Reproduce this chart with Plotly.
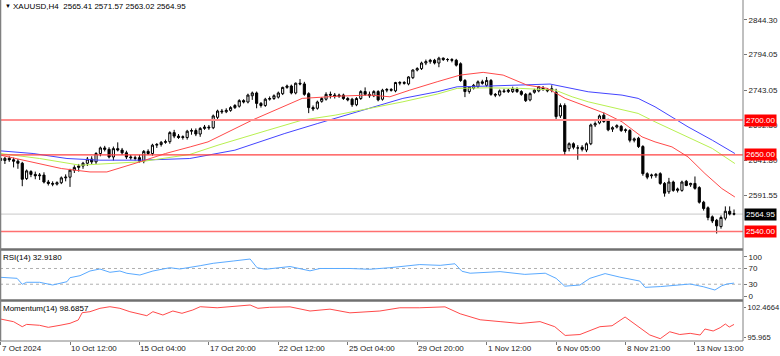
import plotly.graph_objects as go

# ---------------- data (XAUUSD H4) ----------------
open_ = [2645,2642,2645,2643,2641,2638,2616,2626,2622,2620,2621,2611,2609,2608,2610,2617,2618,2628,2632,2634,
         2638,2644,2640,2652,2660,2658,2647,2659,2657,2653,2647,2646,2646,2641,2655,2652,2664,2665,2668,2669,
         2682,2677,2675,2675,2684,2685,2680,2688,2690,2689,2704,2713,2712,2714,2718,2720,2728,2726,2735,2739,
         2724,2721,2730,2731,2733,2738,2747,2749,2739,2753,2752,2738,2718,2717,2727,2730,2737,2736,2734,2736,
         2731,2730,2722,2731,2741,2737,2735,2741,2730,2743,2744,2742,2753,2754,2752,2761,2772,2774,2782,2784,
         2786,2782,2789,2787,2787,2786,2781,2757,2741,2746,2748,2755,2750,2757,2737,2736,2742,2741,2741,2744,
         2741,2737,2729,2740,2742,2746,2744,2743,2740,2706,2721,2659,2666,2660,2661,2657,2666,2693,2696,2707,
         2699,2687,2690,2691,2685,2685,2671,2674,2662,2623,2620,2620,2623,2609,2597,2611,2599,2599,2612,2607,
         2609,2603,2582,2574,2561,2556,2547,2559,2569,2565.41]
high = [2648,2647,2648,2646,2644,2640,2629,2628,2626,2624,2625,2614,2612,2612,2619,2622,2630,2635,2637,2640,
        2647,2648,2654,2662,2663,2661,2662,2668,2660,2656,2650,2649,2650,2657,2658,2666,2667,2670,2672,2684,
        2686,2680,2678,2686,2688,2688,2690,2693,2693,2708,2715,2716,2717,2720,2723,2730,2730,2738,2741,2741,
        2726,2732,2734,2737,2741,2748,2751,2751,2754,2759,2755,2740,2721,2728,2733,2740,2741,2739,2738,2738,
        2733,2732,2733,2743,2747,2741,2743,2743,2745,2746,2746,2755,2756,2756,2763,2773,2776,2784,2787,2788,
        2788,2791,2790,2789,2789,2788,2783,2759,2749,2752,2757,2758,2762,2759,2739,2744,2745,2745,2748,2747,
        2743,2739,2740,2745,2749,2749,2746,2750,2745,2724,2724,2668,2668,2664,2664,2668,2695,2698,2708,2711,
        2702,2691,2694,2693,2688,2687,2675,2676,2664,2625,2623,2624,2625,2611,2617,2613,2603,2613,2614,2610,
        2619,2605,2584,2576,2563,2558,2563,2576,2576,2571.57]
low = [2638,2637,2640,2632,2630,2605,2614,2618,2615,2614,2609,2606,2605,2606,2608,2612,2604,2624,2626,2630,
       2634,2637,2637,2648,2655,2645,2642,2655,2650,2644,2643,2642,2639,2638,2650,2649,2660,2662,2666,2666,
       2674,2673,2672,2672,2679,2677,2676,2686,2686,2687,2701,2709,2710,2712,2716,2718,2724,2724,2729,2717,
       2718,2719,2728,2729,2731,2736,2745,2737,2737,2750,2735,2710,2713,2715,2725,2728,2731,2731,2732,2729,
       2727,2719,2720,2729,2735,2732,2733,2727,2728,2740,2741,2740,2750,2751,2750,2759,2770,2772,2779,2781,
       2780,2776,2785,2784,2783,2777,2755,2733,2738,2744,2746,2751,2748,2735,2733,2734,2739,2739,2739,2739,
       2735,2726,2727,2738,2740,2742,2740,2740,2700,2703,2650,2655,2658,2643,2655,2654,2664,2690,2694,2696,
       2684,2683,2688,2683,2682,2668,2668,2660,2620,2615,2616,2617,2607,2590,2594,2597,2596,2597,2605,2604,
       2600,2580,2570,2556,2552,2537,2544,2556,2563,2563.02]
close = [2642,2645,2643,2641,2638,2615,2627,2622,2620,2621,2611,2609,2608,2610,2617,2618,2628,2632,2634,2638,
         2644,2640,2652,2660,2658,2647,2659,2657,2653,2647,2646,2645,2641,2655,2652,2664,2665,2668,2669,2682,
         2677,2675,2676,2684,2685,2680,2688,2690,2689,2706,2713,2712,2714,2718,2721,2728,2726,2736,2739,2724,
         2721,2730,2731,2735,2739,2747,2749,2739,2753,2752,2737,2718,2716,2726,2731,2737,2736,2734,2736,2731,
         2729,2722,2731,2741,2737,2735,2741,2729,2743,2744,2743,2754,2754,2753,2762,2772,2774,2782,2784,2786,
         2782,2789,2787,2787,2786,2779,2757,2741,2748,2750,2755,2753,2757,2737,2736,2742,2741,2743,2745,2741,
         2737,2728,2738,2743,2748,2744,2742,2745,2705,2721,2655,2666,2661,2660,2658,2666,2693,2695,2706,2698,
         2686,2689,2692,2685,2686,2671,2673,2662,2623,2618,2621,2622,2609,2595,2611,2599,2601,2611,2606,2609,
         2602,2582,2573,2560,2555,2548,2560,2569,2565,2564.95]

# moving averages (read at sample bars)
ma_red_idx = [0,7,14,20.6,24.5,32.1,38,43.7,47.8,58,69.5,78.2,85.1,89.7,94.3,100.6,105.9,111.2,115.8,121.3,126,
              130.1,135.4,139.3,143.2,147.8,150.8,154.7,158.4,162.3,166.2,169.2]
ma_red_val = [2649.6,2640,2630.4,2625.5,2625.5,2640,2652,2661.5,2668.7,2700,2731.2,2734.5,2736,2733.5,2743.1,2755.1,
              2764.7,2768.6,2764.7,2750.3,2745.6,2731.2,2719.1,2709.6,2697.5,2675.9,2668.7,2661.5,2647.1,2623.2,2601.6,2589.5]
ma_green_idx = [0,9,18.3,26.4,32.1,43.6,50.1,61.6,69.5,77.1,85.1,92.7,100.6,105.2,112.1,119.7,127.8,131.7,135.4,
                143.2,146.9,150.8,158.4,164,169.2]
ma_green_val = [2652,2644.8,2635.2,2637.6,2640,2650.6,2664,2685.5,2700,2707.1,2717.2,2726.3,2737.4,2745.6,2746.4,
                2745.6,2743.1,2733.5,2726.3,2714.3,2709.6,2697.5,2675.9,2659.2,2637.6]
ma_blue_idx = [0,7.5,15.3,22.9,32.1,43.6,54,65.5,73.1,81,86.3,92.7,100.6,105.2,112.1,119.7,126.6,135.4,143.2,
               146.9,150.8,158.4,164,169.2]
ma_blue_val = [2655.8,2652,2644.8,2642.4,2642.4,2644.8,2656.8,2680.8,2695.2,2709.6,2719.1,2731.2,2740.7,2747.9,
               2748.9,2750.3,2751.8,2740.7,2735.9,2731.2,2719.1,2690.3,2671.1,2652]

rsi_idx = [0,3.8,5,6,9,11.4,12,15.3,16,18.3,20.6,22.9,25.2,27.5,29.1,32.1,35.1,39,41.3,46,49,53.6,57.5,59.1,
           61,66.7,71.3,73.6,80.5,85,89.7,96.6,101.3,104.7,106.3,108.2,115.1,120.8,125.5,128,130,133.5,135.8,
           139.3,142.7,147.3,148.5,152,156.5,158.9,161.9,164.6,166.2,167.4,168.8,169]
rsi_val = [47.6,45,29.8,34.9,34.9,28,28,36.4,46.6,51.7,63.6,68.7,60.3,63.6,57.8,53.4,63.6,72,68.7,77.1,83.2,89,
           94.1,72,68,75,64,70,70,68,72,80,78,82,63,58,62,55,58,45,25,28,45,57,48,38,22,24,28,30.5,23.7,15.3,
           26.2,30.5,32.5,32.918]
mom_idx = [0,3,5,6,9,11,13.7,16,17.9,18.8,20.6,22.9,25.2,27.5,29.8,32.1,33.7,35.1,37.4,39.7,41.8,44.3,46,49.9,
           53.6,57.5,59.3,62,66.7,71.3,75.9,80.5,87.4,92,96.6,102.4,105.9,110.5,115.1,119.7,124.3,127.7,130.1,
           133.5,138.1,140.9,143.9,146.2,149.6,152,154.2,156.5,158.9,161.2,162.3,164.2,165.8,167,167.9,169]
mom_val = [99.86,99.28,98.2,98.7,98.5,98.06,98.5,98.93,99.65,101.23,101.45,102.18,102.53,102.18,101.45,100.88,
           100.58,101.45,100.73,101.6,101.1,101.82,102.53,102.3,102.53,102.9,102.18,102.4,102.5,101.6,102.0,101.2,
           101.6,102.3,102.3,102.5,101.0,99.7,99.3,98.9,99.3,98.2,96.3,96.5,98.2,98.4,100.3,98.8,96.4,95.6,97.1,
           96.5,96.76,96.4,97.7,97.27,97.98,98.78,98.13,98.6857]

levels = [2700.0, 2650.0, 2540.0]
price_ticks = [2844.30, 2794.05, 2743.05, 2692.80, 2641.80, 2591.55]
rsi_ticks = [100, 70, 30, 0]
mom_ticks = [102.4664, 95.965]
time_pos = [0, 16, 32, 48, 64, 80, 96, 112, 128, 144, 160]
time_labels = ["7 Oct 2024", "10 Oct 12:00", "15 Oct 04:00", "17 Oct 20:00", "22 Oct 12:00", "25 Oct 04:00",
               "29 Oct 20:00", "1 Nov 12:00", "6 Nov 05:00", "8 Nov 21:00", "13 Nov 13:00"]

# ---------------- figure ----------------
FONT = "Liberation Sans"
FS = 8
H = 341.0  # plot area height in px
def py(p):
    return (H - p) / H

idx = list(range(len(close)))
fig = go.Figure()

fig.add_trace(go.Candlestick(
    x=idx, open=open_, high=high, low=low, close=close,
    increasing=dict(line=dict(color="#000000", width=1), fillcolor="#ffffff"),
    decreasing=dict(line=dict(color="#000000", width=1), fillcolor="#000000"),
    whiskerwidth=0, xaxis="x", yaxis="y", hoverinfo="skip", showlegend=False))

for xs, ys, col in [(ma_blue_idx, ma_blue_val, "#4444ff"),
                    (ma_green_idx, ma_green_val, "#b8f050"),
                    (ma_red_idx, ma_red_val, "#ff4a4a")]:
    fig.add_trace(go.Scatter(x=xs, y=ys, mode="lines", line=dict(color=col, width=1),
                             xaxis="x", yaxis="y", hoverinfo="skip", showlegend=False))

fig.add_trace(go.Scatter(x=rsi_idx, y=rsi_val, mode="lines", line=dict(color="#5aaaff", width=1),
                         xaxis="x2", yaxis="y2", hoverinfo="skip", showlegend=False))
fig.add_trace(go.Scatter(x=mom_idx, y=mom_val, mode="lines", line=dict(color="#ff4a4a", width=1),
                         xaxis="x3", yaxis="y3", hoverinfo="skip", showlegend=False))

XR = [-0.13, 171.07]
axis_common = dict(showgrid=False, zeroline=False, fixedrange=True, automargin=False)
tick_font = dict(size=FS, color="#222222", family=FONT)
fig.update_layout(
    width=780, height=356,
    margin=dict(l=0, r=37, t=0, b=15, autoexpand=False),
    paper_bgcolor="#ffffff", plot_bgcolor="#ffffff",
    font=dict(family=FONT, size=FS, color="#000000"),
    showlegend=False,
    xaxis=dict(domain=[0, 1], range=XR, anchor="y", showticklabels=False, rangeslider=dict(visible=False),
               **axis_common),
    xaxis2=dict(domain=[0, 1], range=XR, anchor="y2", matches="x", showticklabels=False, **axis_common),
    xaxis3=dict(domain=[0, 1], range=XR, anchor="y3", matches="x", tickvals=time_pos, ticks="outside",
                ticklen=3, tickcolor="#777777", showticklabels=False, **axis_common),
    yaxis=dict(domain=[py(248), 1], range=[2516.2, 2872.6], side="right", anchor="x",
               tickvals=price_ticks, ticktext=["%.2f" % v for v in price_ticks],
               ticks="outside", ticklen=3, tickcolor="#777777", tickfont=tick_font, **axis_common),
    yaxis2=dict(domain=[py(299), py(251)], range=[-7.6, 114.5], side="right", anchor="x2",
                tickvals=rsi_ticks, ticktext=[str(v) for v in rsi_ticks],
                ticks="outside", ticklen=3, tickcolor="#777777", tickfont=tick_font, **axis_common),
    yaxis3=dict(domain=[0, py(302)], range=[95.098, 103.55], side="right", anchor="x3",
                tickvals=mom_ticks, ticktext=["102.4664", "95.965"],
                ticks="outside", ticklen=2, tickcolor="#777777",
                tickfont=dict(size=7.6, color="#222222", family=FONT), **axis_common),
)

shapes = []
shapes.append(dict(type="line", xref="paper", x0=0, x1=1, yref="y", y0=2564.95, y1=2564.95,
                   line=dict(color="#c8c8c8", width=1), layer="below"))
shapes.append(dict(type="line", xref="paper", x0=0, x1=1, yref="y", y0=levels[0], y1=levels[0],
                   line=dict(color="#ff8c8c", width=2)))
shapes.append(dict(type="line", xref="paper", x0=0, x1=1, yref="y", y0=levels[1], y1=levels[1],
                   line=dict(color="#ff4040", width=1.2)))
shapes.append(dict(type="line", xref="paper", x0=0, x1=1, yref="y", y0=levels[2], y1=levels[2],
                   line=dict(color="#ff7070", width=1.5)))
for v in (70, 30):
    shapes.append(dict(type="line", xref="paper", x0=0, x1=1, yref="y2", y0=v, y1=v,
                       line=dict(color="#b0b0b0", width=1, dash="dot"), layer="below"))
for yy in (249.5, 300.5):
    shapes.append(dict(type="line", xref="paper", x0=0, x1=1, yref="paper", y0=py(yy), y1=py(yy),
                       line=dict(color="#707070", width=2.5)))
shapes.append(dict(type="line", xref="paper", x0=0, x1=1, yref="paper", y0=0, y1=0,
                   line=dict(color="#808080", width=1)))
shapes.append(dict(type="line", xref="paper", x0=0.0007, x1=0.0007, yref="paper", y0=0, y1=1,
                   line=dict(color="#808080", width=1.5)))
shapes.append(dict(type="line", xref="paper", x0=1, x1=1, yref="paper", y0=0, y1=1,
                   line=dict(color="#808080", width=1)))
fig.update_layout(shapes=shapes)

ann = []
for p, t in zip(time_pos, time_labels):
    ann.append(dict(x=p, xref="x3", y=-7.5 / H, yref="paper", text=t, showarrow=False,
                    xanchor="left", yanchor="middle", xshift=-1, font=dict(size=FS, color="#222222")))
for v, bg in [(2700.0, "#ff0000"), (2650.0, "#ff0000"), (2540.0, "#ff0000"), (2564.95, "#000000")]:
    ann.append(dict(x=1, xref="paper", y=v, yref="y", text="%.2f" % v, showarrow=False,
                    xanchor="left", yanchor="middle", xshift=1, bgcolor=bg, borderpad=1,
                    font=dict(size=FS, color="#ffffff")))
ann.append(dict(x=3 / 743, xref="paper", y=py(6), yref="paper", text="▼", showarrow=False,
                xanchor="left", yanchor="middle", font=dict(size=6, color="#000000")))
ann.append(dict(x=11 / 743, xref="paper", y=py(6.5), yref="paper",
                text="XAUUSD,H4&nbsp;&nbsp;2565.41 2571.57 2563.02 2564.95", showarrow=False,
                xanchor="left", yanchor="middle", font=dict(size=FS, color="#000000")))
ann.append(dict(x=1 / 743, xref="paper", y=py(257), yref="paper", text="RSI(14) 32.9180", showarrow=False,
                xanchor="left", yanchor="middle", font=dict(size=FS, color="#000000")))
ann.append(dict(x=1 / 743, xref="paper", y=py(308), yref="paper", text="Momentum(14) 98.6857",
                showarrow=False, xanchor="left", yanchor="middle", font=dict(size=FS, color="#000000")))
fig.update_layout(annotations=ann)

fig.write_html("out.html", config={"displayModeBar": False, "staticPlot": True},
               post_script="document.body.style.margin='0px';document.body.style.overflow='hidden';")
